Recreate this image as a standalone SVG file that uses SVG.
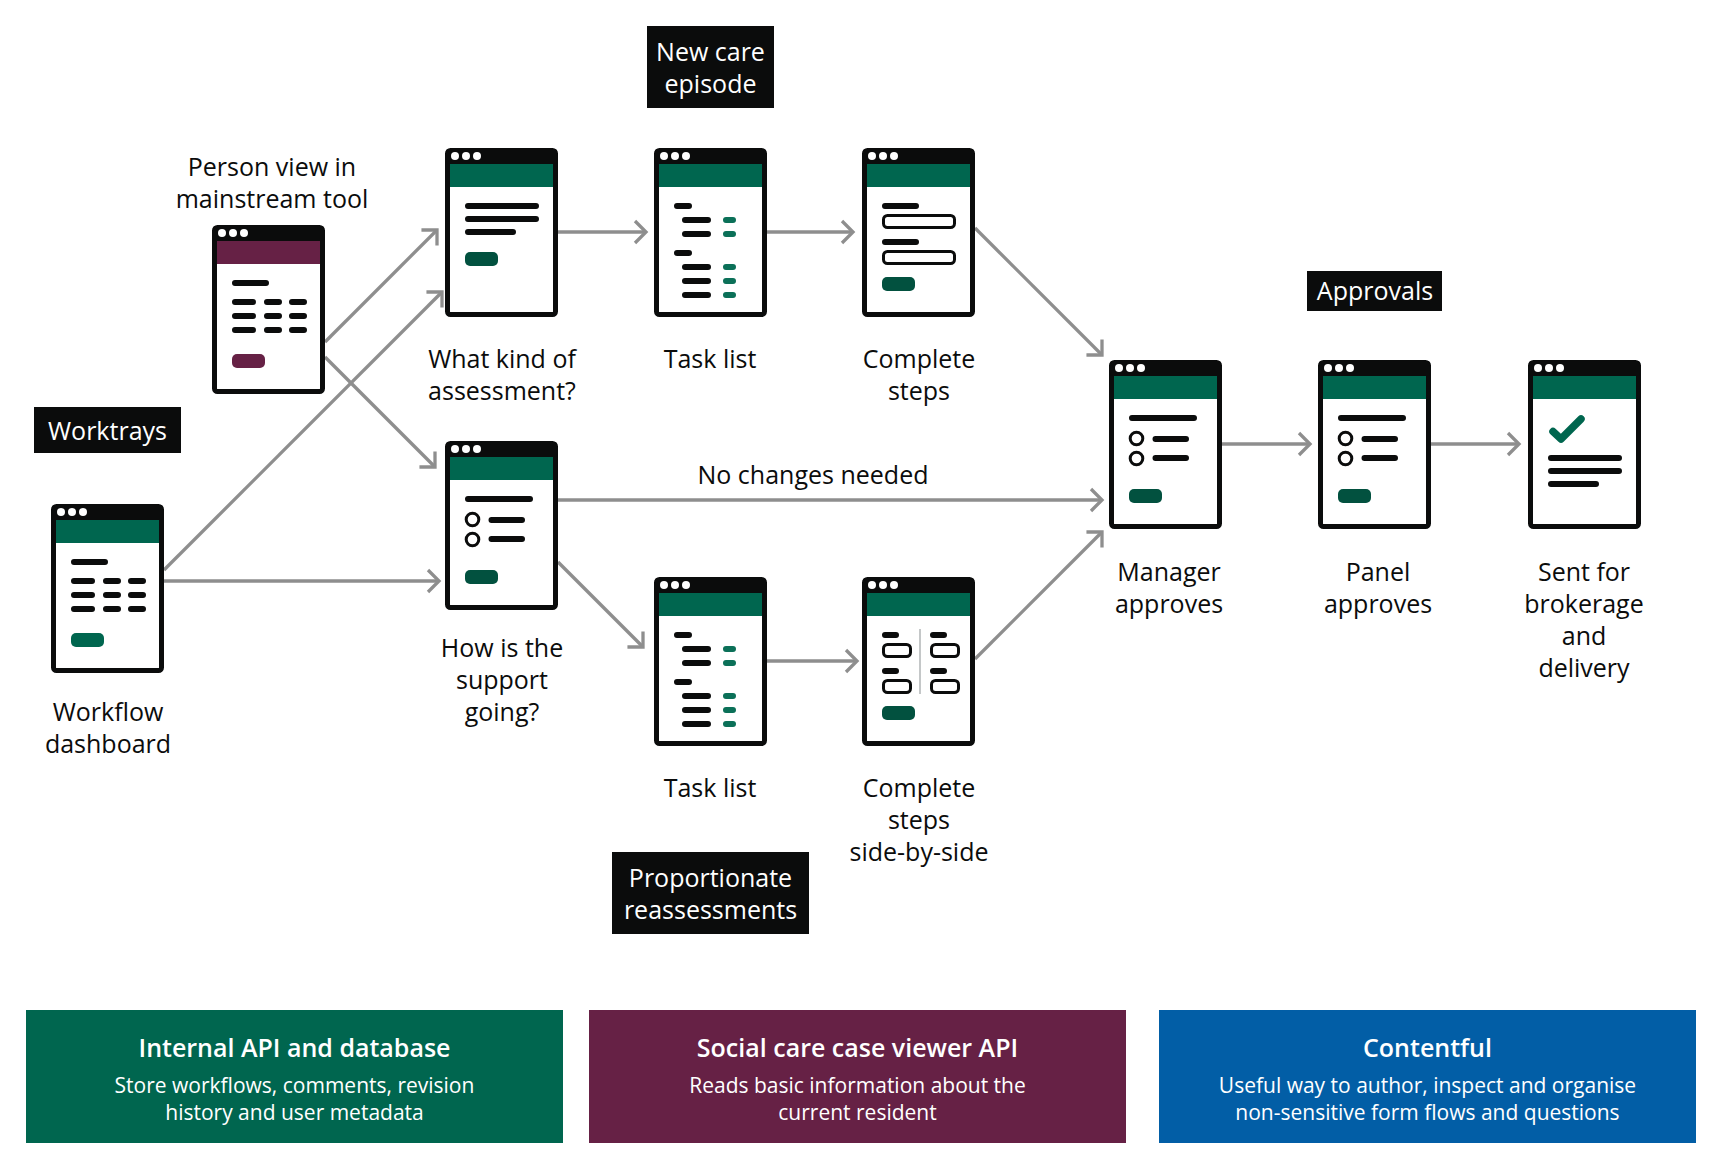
<svg xmlns="http://www.w3.org/2000/svg" xmlns:xlink="http://www.w3.org/1999/xlink" width="1717" height="1166" viewBox="0 0 1717 1166">
<style>
text{font-family:"Open Sans","Noto Sans","Liberation Sans",sans-serif;text-anchor:middle}
.lb{font-size:25px;fill:#0b0c0c}
.tg{font-size:25px;fill:#fff}
.bt{font-size:25px;font-weight:600;fill:#fff}
.bd{font-size:21px;fill:#fff}
.k{fill:#0b0c0c}
.g{fill:#00664f}
.l{stroke:#0b0c0c;stroke-width:6;stroke-linecap:round;fill:none}
.s{stroke:#0b7058;stroke-width:6;stroke-linecap:round;fill:none}
.b{fill:#00664f}
.d{fill:#02513f}
.p{fill:#662145}
.r{fill:#fff;stroke:#0b0c0c;stroke-width:3}
.c{fill:none;stroke:#8e8e8e;stroke-width:3.300;marker-end:url(#ah)}
</style>
<defs>
<marker id="ah" markerUnits="userSpaceOnUse" markerWidth="30" markerHeight="30" refX="15" refY="15" orient="auto" viewBox="0 0 30 30"><path d="M4,4L15,15L4,26" fill="none" stroke="#8e8e8e" stroke-width="3.300"/></marker>
<g id="frame"><rect x="2.5" y="2.5" width="108" height="164" rx="3" fill="#fff" stroke="#0b0c0c" stroke-width="5"/><rect x="1" y="1" width="111" height="15" rx="3" class="k"/><circle cx="10" cy="8" r="4" fill="#fff"/><circle cx="21" cy="8" r="4" fill="#fff"/><circle cx="32" cy="8" r="4" fill="#fff"/></g>
<rect id="band" x="5" y="16" width="103" height="23" class="g"/>
<g id="radios"><path class="l" d="M23,58H85M46.500,79H77M46.500,98H77"/><circle cx="27.500" cy="78.500" r="6.300" class="r"/><circle cx="27.500" cy="98.500" r="6.300" class="r"/></g>
<g id="tasks"><path class="l" d="M23,58H35M31,72H54M31,86H54M23,105H35M31,119H54M31,133H54M31,147H54"/><path class="s" d="M72,72H79M72,86H79M72,119H79M72,133H79M72,147H79"/></g>
<path id="table" class="l" d="M23,58H54M23,77H41M55,77H67M80,77H92M23,91H41M55,91H67M80,91H92M23,105H41M55,105H67M80,105H92"/>
</defs>
<g id="connectors">
<path class="c" d="M325,342L437,230"/>
<path class="c" d="M164,570L442,292"/>
<path class="c" d="M325,357L435,467"/>
<path class="c" d="M164,581H439"/>
<path class="c" d="M558,232H646"/>
<path class="c" d="M767,232H853"/>
<path class="c" d="M975,228L1102,355"/>
<path class="c" d="M558,500H1102"/>
<path class="c" d="M558,562L643,647"/>
<path class="c" d="M767,661H857"/>
<path class="c" d="M975,659L1102,532"/>
<path class="c" d="M1222,444H1310"/>
<path class="c" d="M1431,444H1519"/>
</g>
<g id="node-person" transform="translate(212,225)"><use href="#frame"/><rect x="5" y="16" width="103" height="23" class="p"/><use href="#table"/><rect x="20" y="129" width="33" height="14" rx="5" class="p"/></g>
<text class="lb" x="272" y="176">Person view in</text><text class="lb" x="272" y="208">mainstream tool</text>
<g id="node-workflow" transform="translate(51,504)"><use href="#frame"/><use href="#band"/><use href="#table"/><rect x="20" y="129" width="33" height="14" rx="5" class="b"/></g>
<text class="lb" x="108" y="721">Workflow</text><text class="lb" x="108" y="753">dashboard</text>
<g id="node-kind" transform="translate(445,148)"><use href="#frame"/><use href="#band"/><path class="l" d="M23,58H91M23,71H91M23,84H68"/><rect x="20" y="104" width="33" height="14" rx="5" class="d"/></g>
<text class="lb" x="502" y="368">What kind of</text><text class="lb" x="502" y="400">assessment?</text>
<g id="node-task1" transform="translate(654,148)"><use href="#frame"/><use href="#band"/><use href="#tasks"/></g>
<text class="lb" x="710" y="368">Task list</text>
<g id="node-complete1" transform="translate(862,148)"><use href="#frame"/><use href="#band"/><path class="l" d="M23,58H54M23,94H54"/><rect x="21.500" y="67.500" width="71" height="12" rx="4" class="r"/><rect x="21.500" y="103.500" width="71" height="12" rx="4" class="r"/><rect x="20" y="129" width="33" height="14" rx="5" class="d"/></g>
<text class="lb" x="919" y="368">Complete</text><text class="lb" x="919" y="400">steps</text>
<g id="node-how" transform="translate(445,441)"><use href="#frame"/><use href="#band"/><use href="#radios"/><rect x="20" y="129" width="33" height="14" rx="5" class="d"/></g>
<text class="lb" x="502" y="657">How is the</text><text class="lb" x="502" y="689">support</text><text class="lb" x="502" y="721">going?</text>
<g id="node-task2" transform="translate(654,577)"><use href="#frame"/><use href="#band"/><use href="#tasks"/></g>
<text class="lb" x="710" y="797">Task list</text>
<g id="node-complete2" transform="translate(862,577)"><use href="#frame"/><use href="#band"/><path class="l" d="M23,58H34M23,94H34M71,58H82M71,94H82"/><rect x="21.500" y="67.500" width="27" height="12" rx="4" class="r"/><rect x="21.500" y="103.500" width="27" height="12" rx="4" class="r"/><rect x="69.500" y="67.500" width="27" height="12" rx="4" class="r"/><rect x="69.500" y="103.500" width="27" height="12" rx="4" class="r"/><path d="M58,52V117" stroke="#b1b4b6" stroke-width="1.500"/><rect x="20" y="129" width="33" height="14" rx="5" class="d"/></g>
<text class="lb" x="919" y="797">Complete</text><text class="lb" x="919" y="829">steps</text><text class="lb" x="919" y="861">side-by-side</text>
<g id="node-manager" transform="translate(1109,360)"><use href="#frame"/><use href="#band"/><use href="#radios"/><rect x="20" y="129" width="33" height="14" rx="5" class="d"/></g>
<text class="lb" x="1169" y="581">Manager</text><text class="lb" x="1169" y="613">approves</text>
<g id="node-panel" transform="translate(1318,360)"><use href="#frame"/><use href="#band"/><use href="#radios"/><rect x="20" y="129" width="33" height="14" rx="5" class="d"/></g>
<text class="lb" x="1378" y="581">Panel</text><text class="lb" x="1378" y="613">approves</text>
<g id="node-sent" transform="translate(1528,360)"><use href="#frame"/><use href="#band"/><path d="M25,71.500L33,79L53,59" fill="none" stroke="#00664f" stroke-width="7.500" stroke-linecap="round" stroke-linejoin="round"/><path class="l" d="M23,98H91M23,111H91M23,124H68"/></g>
<text class="lb" x="1584" y="581">Sent for</text><text class="lb" x="1584" y="613">brokerage</text><text class="lb" x="1584" y="645">and</text><text class="lb" x="1584" y="677">delivery</text>
<text class="lb" x="813" y="484">No changes needed</text>
<g id="tag-worktrays"><rect x="34" y="407" width="147" height="46" class="k"/><text class="tg" x="107.500" y="440">Worktrays</text></g>
<g id="tag-newcare"><rect x="647" y="26" width="127" height="82" class="k"/><text class="tg" x="710.500" y="61">New care</text><text class="tg" x="710.500" y="93">episode</text></g>
<g id="tag-approvals"><rect x="1307" y="271" width="135" height="40" class="k"/><text class="tg" x="1375" y="300">Approvals</text></g>
<g id="tag-proportionate"><rect x="612" y="852" width="197" height="82" class="k"/><text class="tg" x="710.500" y="887">Proportionate</text><text class="tg" x="710.500" y="919">reassessments</text></g>
<g id="box-internal"><rect x="26" y="1010" width="537" height="133" fill="#00664f"/><text class="bt" x="294.500" y="1057">Internal API and database</text><text class="bd" x="294.500" y="1093">Store workflows, comments, revision</text><text class="bd" x="294.500" y="1120">history and user metadata</text></g>
<g id="box-viewer"><rect x="589" y="1010" width="537" height="133" fill="#662145"/><text class="bt" x="857.500" y="1057">Social care case viewer API</text><text class="bd" x="857.500" y="1093">Reads basic information about the</text><text class="bd" x="857.500" y="1120">current resident</text></g>
<g id="box-contentful"><rect x="1159" y="1010" width="537" height="133" fill="#025ea6"/><text class="bt" x="1427.500" y="1057">Contentful</text><text class="bd" x="1427.500" y="1093">Useful way to author, inspect and organise</text><text class="bd" x="1427.500" y="1120">non-sensitive form flows and questions</text></g>
</svg>
